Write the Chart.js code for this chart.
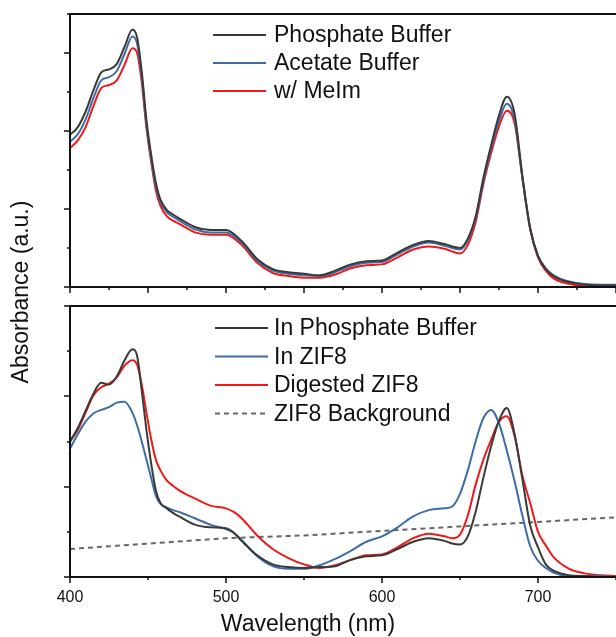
<!DOCTYPE html>
<html>
<head>
<meta charset="utf-8">
<script src="https://cdn.jsdelivr.net/npm/chart.js@4.4.0/dist/chart.umd.min.js"></script>
<style>
    html, body { margin: 0; padding: 0; background: #fff; }
    #wrap { position: relative; width: 616px; height: 637px; overflow: hidden; }
    #wrap canvas { position: absolute; left: 0; top: 0; }
</style>
</head>
<body>
<div id="wrap">
    <canvas id="bottom-chart" width="616" height="637"></canvas>
    <canvas id="top-chart" width="616" height="637"></canvas>
</div>
<script>
// Top panel: buffers
const wavelengthTop = [400, 405, 410, 415, 420, 425, 430, 435, 440, 443, 446, 449, 452, 455, 458, 462, 466, 470,
    480, 490, 500, 510, 520, 530, 540, 550, 560, 570, 580, 590, 600, 610, 620, 630, 640, 650,
    655, 660, 665, 670, 675, 680, 685, 690, 695, 700, 705, 710, 720, 730, 740, 750];
const phosphateTop = [1.95, 2.05, 2.25, 2.52, 2.75, 2.79, 2.86, 3.08, 3.30, 3.20, 2.76, 2.14, 1.70, 1.34, 1.12, 0.99, 0.93, 0.88,
    0.77, 0.73, 0.73, 0.59, 0.36, 0.23, 0.19, 0.17, 0.15, 0.21, 0.29, 0.33, 0.34, 0.44, 0.54, 0.59, 0.55, 0.50,
    0.62, 0.90, 1.40, 1.82, 2.20, 2.44, 2.22, 1.42, 0.75, 0.40, 0.23, 0.14, 0.06, 0.03, 0.02, 0.02];
const acetateTop = [1.86, 1.96, 2.15, 2.42, 2.65, 2.69, 2.77, 2.99, 3.21, 3.12, 2.70, 2.08, 1.65, 1.29, 1.09, 0.96, 0.90, 0.85,
    0.74, 0.70, 0.70, 0.57, 0.34, 0.21, 0.17, 0.15, 0.14, 0.19, 0.27, 0.31, 0.32, 0.42, 0.52, 0.57, 0.53, 0.48,
    0.60, 0.88, 1.36, 1.78, 2.13, 2.35, 2.15, 1.40, 0.74, 0.40, 0.24, 0.15, 0.07, 0.04, 0.03, 0.03];
const meImTop = [1.78, 1.88, 2.05, 2.32, 2.55, 2.59, 2.65, 2.85, 3.06, 3.00, 2.62, 2.04, 1.61, 1.24, 1.04, 0.91, 0.85, 0.81,
    0.70, 0.67, 0.67, 0.54, 0.31, 0.18, 0.14, 0.12, 0.12, 0.16, 0.24, 0.28, 0.29, 0.38, 0.48, 0.52, 0.49, 0.43,
    0.54, 0.83, 1.32, 1.72, 2.06, 2.26, 2.10, 1.40, 0.75, 0.38, 0.21, 0.11, 0.04, 0.01, 0.00, 0.00];

// Bottom panel: ZIF8
const wavelengthBottom = [400, 405, 410, 415, 420, 425, 430, 435, 440, 443, 446, 449, 452, 455, 458, 462, 466, 470,
    480, 490, 500, 505, 510, 520, 530, 540, 550, 560, 570, 580, 590, 600, 610, 620, 630, 640,
    645, 650, 655, 660, 665, 670, 675, 680, 685, 690, 695, 700, 705, 710, 720, 730, 740, 750];
const phosphateBottom = [1.50, 1.65, 1.84, 2.03, 2.15, 2.13, 2.22, 2.40, 2.52, 2.45, 2.06, 1.63, 1.26, 0.96, 0.82, 0.76, 0.71, 0.67,
    0.58, 0.55, 0.54, 0.49, 0.40, 0.24, 0.14, 0.11, 0.10, 0.11, 0.12, 0.19, 0.23, 0.24, 0.31, 0.39, 0.43, 0.40,
    0.37, 0.36, 0.45, 0.72, 1.10, 1.45, 1.73, 1.87, 1.58, 1.08, 0.57, 0.33, 0.14, 0.07, 0.02, 0.01, 0.00, 0.00];
const zif8Bottom = [1.42, 1.58, 1.72, 1.81, 1.85, 1.88, 1.93, 1.94, 1.82, 1.68, 1.50, 1.30, 1.10, 0.90, 0.81, 0.77, 0.74, 0.72,
    0.65, 0.58, 0.53, 0.49, 0.41, 0.23, 0.12, 0.09, 0.09, 0.13, 0.20, 0.29, 0.39, 0.45, 0.55, 0.67, 0.74, 0.76,
    0.78, 0.92, 1.18, 1.50, 1.76, 1.85, 1.70, 1.40, 1.06, 0.68, 0.34, 0.18, 0.10, 0.05, 0.01, 0.01, 0.01, 0.00];
const digestedBottom = [1.50, 1.63, 1.82, 2.01, 2.10, 2.14, 2.21, 2.34, 2.40, 2.35, 2.13, 1.82, 1.53, 1.30, 1.18, 1.07, 1.01, 0.96,
    0.87, 0.79, 0.76, 0.72, 0.65, 0.46, 0.31, 0.21, 0.14, 0.10, 0.13, 0.19, 0.24, 0.25, 0.33, 0.43, 0.48, 0.45,
    0.43, 0.47, 0.68, 1.02, 1.30, 1.52, 1.72, 1.78, 1.56, 1.12, 0.82, 0.50, 0.35, 0.22, 0.09, 0.04, 0.02, 0.01];
const backgroundWavelength = [400, 450, 500, 550, 600, 650, 700, 750];
const zif8Background = [0.31, 0.37, 0.43, 0.46, 0.51, 0.56, 0.61, 0.66];

const xTickLabels = [400, 500, 600, 700];
const topLabels = ['Phosphate Buffer', 'Acetate Buffer', 'w/ MeIm'];
const bottomLabels = ['In Phosphate Buffer', 'In ZIF8', 'Digested ZIF8', 'ZIF8 Background'];

const FONT = "'Liberation Sans', Arial, sans-serif";
const BLACK = '#3a3a3a';
const BLUE = '#3d6ca6';
const RED = '#f01818';
const GREY = '#666666';

Chart.defaults.font.family = FONT;

function points(xs, ys) {
    return xs.map((x, i) => ({ x: x, y: ys[i] }));
}

function series(label, xs, ys, color, dash) {
    return {
        label: label,
        data: points(xs, ys),
        borderColor: color,
        borderWidth: 2,
        borderDash: dash || [],
        pointRadius: 0,
        fill: false,
        cubicInterpolationMode: dash ? 'default' : 'monotone',
        tension: dash ? 0 : 0.4
    };
}

// axis frame and outward tick marks (Origin style)
function framePlugin(xMajor, xMinor) {
    return {
        id: 'frame',
        afterDraw(chart) {
            const { ctx, chartArea: a } = chart;
            const x = chart.scales.x, y = chart.scales.y;
            ctx.save();
            ctx.strokeStyle = '#111';
            ctx.lineWidth = 1.5;
            ctx.beginPath();
            for (let v = x.min; v <= x.max + 0.001; v += xMinor) {
                const px = Math.round(x.getPixelForValue(v));
                const major = Math.abs(v / xMajor - Math.round(v / xMajor)) < 0.001;
                ctx.moveTo(px, a.bottom);
                ctx.lineTo(px, a.bottom + (major ? 6 : 3));
            }
            for (let v = 0; v <= y.max + 0.001; v += 0.5) {
                const py = Math.round(y.getPixelForValue(v));
                const major = Math.abs(v - Math.round(v)) < 0.001;
                ctx.moveTo(a.left, py);
                ctx.lineTo(a.left - (major ? 6 : 3), py);
            }
            ctx.stroke();

            ctx.lineWidth = 2;
            ctx.beginPath();
            ctx.moveTo(a.right, a.top);
            ctx.lineTo(a.left, a.top);
            ctx.lineTo(a.left, a.bottom);
            ctx.lineTo(a.right, a.bottom);
            ctx.stroke();
            ctx.restore();
        }
    };
}

function legendPlugin(rowStep, lineX, firstY) {
    return {
        id: 'inLegend',
        afterDraw(chart) {
            const ctx = chart.ctx;
            ctx.save();
            ctx.font = '23px ' + FONT;
            ctx.fillStyle = '#111';
            ctx.textBaseline = 'middle';
            chart.data.datasets.forEach((ds, i) => {
                const yy = firstY + i * rowStep;
                ctx.strokeStyle = ds.borderColor;
                ctx.lineWidth = 2;
                ctx.setLineDash(ds.borderDash);
                ctx.beginPath();
                ctx.moveTo(lineX[0], yy);
                ctx.lineTo(lineX[1], yy);
                ctx.stroke();
                ctx.setLineDash([]);
                ctx.fillText(ds.label, 274, yy + 1);
            });
            ctx.restore();
        }
    };
}

const axisTitles = {
    id: 'axisTitles',
    afterDraw(chart) {
        const ctx = chart.ctx;
        ctx.save();
        ctx.font = '23px ' + FONT;
        ctx.fillStyle = '#111';
        ctx.textAlign = 'center';
        ctx.textBaseline = 'middle';
        ctx.fillText('Wavelength (nm)', 308, 625);
        ctx.translate(22, 292);
        ctx.rotate(-Math.PI / 2);
        ctx.fillText('Absorbance (a.u.)', 0, 0);
        ctx.restore();
    }
};

new Chart(document.getElementById('top-chart').getContext('2d'), {
    type: 'line',
    data: {
        datasets: [
            series(topLabels[0], wavelengthTop, phosphateTop, BLACK),
            series(topLabels[1], wavelengthTop, acetateTop, BLUE),
            series(topLabels[2], wavelengthTop, meImTop, RED)
        ]
    },
    options: {
        responsive: false,
        animation: false,
        layout: { padding: { left: 70, top: 14, right: 0, bottom: 350 } },
        scales: {
            x: { type: 'linear', display: false, min: 400, max: 750 },
            y: { display: false, min: 0, max: 3.5 }
        },
        plugins: { legend: { display: false }, tooltip: { enabled: false } }
    },
    plugins: [framePlugin(50, 25), legendPlugin(28, [213, 266], 35)]
});

new Chart(document.getElementById('bottom-chart').getContext('2d'), {
    type: 'line',
    data: {
        datasets: [
            series(bottomLabels[0], wavelengthBottom, phosphateBottom, BLACK),
            series(bottomLabels[1], wavelengthBottom, zif8Bottom, BLUE),
            series(bottomLabels[2], wavelengthBottom, digestedBottom, RED),
            series(bottomLabels[3], backgroundWavelength, zif8Background, GREY, [5, 4])
        ]
    },
    options: {
        responsive: false,
        animation: false,
        layout: { padding: { left: 70, top: 306, right: 0, bottom: 0 } },
        scales: {
            x: {
                type: 'linear', min: 400, max: 750,
                grid: { display: false, drawTicks: false },
                border: { display: false },
                ticks: {
                    stepSize: 50, autoSkip: false, maxRotation: 0, padding: 11,
                    color: '#111', font: { size: 16 },
                    callback: v => xTickLabels.includes(v) ? v : null
                },
                afterFit: s => {
                    s.height = 60;
                    s.paddingLeft = 0;
                    s.paddingRight = 0;
                }
            },
            y: { display: false, min: 0, max: 3 }
        },
        plugins: { legend: { display: false }, tooltip: { enabled: false } }
    },
    plugins: [framePlugin(100, 50), legendPlugin(28.5, [215, 268], 328), axisTitles]
});
</script>
</body>
</html>
